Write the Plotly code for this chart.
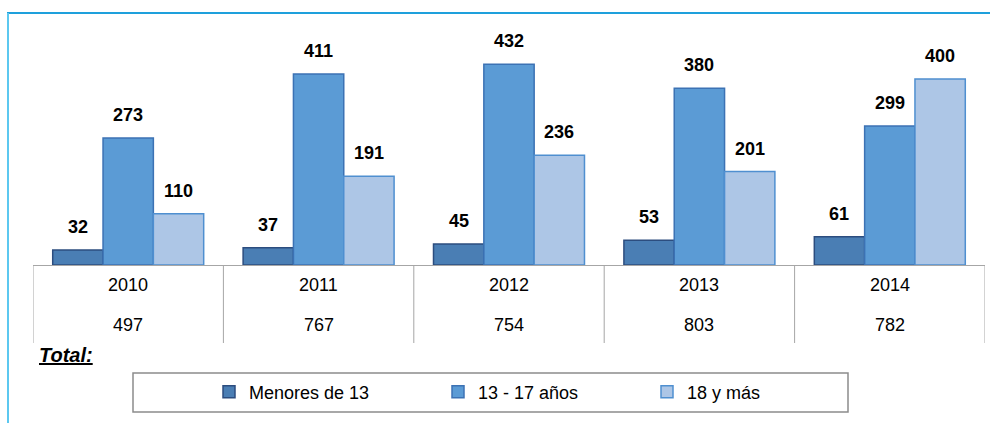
import plotly.graph_objects as go

years = ["2010", "2011", "2012", "2013", "2014"]
totals = ["497", "767", "754", "803", "782"]
series_names = ["Menores de 13", "13 - 17 años", "18 y más"]
menores_13 = [32, 37, 45, 53, 61]
de_13_17 = [273, 411, 432, 380, 299]
mayores_18 = [110, 191, 236, 201, 400]

fills = ["#4A7EB4", "#5B9BD5", "#ADC6E6"]
edges = ["#2C4D7F", "#3C72B4", "#4F8FD0"]

FONT = "Liberation Sans, Arial, sans-serif"

W, H = 990, 423
ML, MR, MT, MB = 33, 5, 13, 158
PW, PH = W - ML - MR, H - MT - MB

def px_x(p):
    return (p - ML) / PW

def px_y(p):
    return (H - MB - p) / PH

idx = list(range(len(years)))
offsets = [-1, 0, 1]
bargap = 0.207
bw = (1 - bargap) / 3

fig = go.Figure()
legend_ids = ["legend", "legend2", "legend3"]
for name, vals, fc, ec, lg in zip(series_names, [menores_13, de_13_17, mayores_18], fills, edges, legend_ids):
    fig.add_trace(go.Bar(
        x=idx, y=vals, name=name, legend=lg,
        marker=dict(color=fc, line=dict(color=ec, width=1.5)),
        hoverinfo="x+y",
    ))

annotations = []
# data labels from the series arrays
for off, vals in zip(offsets, [menores_13, de_13_17, mayores_18]):
    for i, v in enumerate(vals):
        annotations.append(dict(x=i + off * bw, y=v, xref="x", yref="y", text=f"<b>{v}</b>",
                                showarrow=False, yanchor="middle", yshift=23,
                                font=dict(family=FONT, size=18, color="#000000")))

shapes = []
# table vertical lines
for b in [i - 0.5 for i in range(len(years) + 1)]:
    shapes.append(dict(type="line", xref="x", yref="paper", x0=b, x1=b,
                       y0=0, y1=px_y(343), line=dict(color="#A6A6A6", width=1)))
# legend box
shapes.append(dict(type="rect", xref="paper", yref="paper",
                   x0=px_x(133), x1=px_x(848), y0=px_y(412), y1=px_y(373),
                   line=dict(color="#8C8C8C", width=1.5), fillcolor="rgba(0,0,0,0)"))
# outer frame lines
shapes.append(dict(type="line", xref="paper", yref="paper", x0=px_x(7), x1=px_x(990),
                   y0=px_y(13), y1=px_y(13), line=dict(color="#1EA0DC", width=2)))
shapes.append(dict(type="line", xref="paper", yref="paper", x0=px_x(8), x1=px_x(8),
                   y0=px_y(13), y1=px_y(423), line=dict(color="#5CC8F0", width=2)))

for i, (yr, tot) in enumerate(zip(years, totals)):
    annotations.append(dict(x=i, y=px_y(285), xref="x", yref="paper", text=yr, yanchor="middle",
                            showarrow=False, font=dict(family=FONT, size=18, color="#000000")))
    annotations.append(dict(x=i, y=px_y(325), xref="x", yref="paper", text=tot, yanchor="middle",
                            showarrow=False, font=dict(family=FONT, size=18, color="#000000")))
annotations.append(dict(x=px_x(37), y=px_y(355), xref="paper", yref="paper",
                        xanchor="left", yanchor="middle", text="<b><i><u>Total:</u></i></b>",
                        showarrow=False, font=dict(family=FONT, size=20, color="#000000")))

legend_common = dict(orientation="h", xanchor="left", yanchor="middle", bgcolor="rgba(0,0,0,0)",
                     font=dict(family=FONT, size=18, color="#000000"), itemclick=False,
                     itemdoubleclick=False, borderwidth=0)
legend_x = [209, 438, 647]

fig.update_layout(
    width=W, height=H,
    margin=dict(l=ML, r=MR, t=MT, b=MB, pad=0),
    paper_bgcolor="white", plot_bgcolor="white",
    barmode="group", bargap=bargap, bargroupgap=0,
    xaxis=dict(range=[-0.5, 4.5], showticklabels=False, showgrid=False, zeroline=False,
               showline=True, linecolor="#A6A6A6", linewidth=1, ticks=""),
    yaxis=dict(range=[0, 542], visible=False),
    showlegend=True,
    legend=dict(x=px_x(legend_x[0]), y=px_y(392), **legend_common),
    legend2=dict(x=px_x(legend_x[1]), y=px_y(392), **legend_common),
    legend3=dict(x=px_x(legend_x[2]), y=px_y(392), **legend_common),
    shapes=shapes, annotations=annotations,
    font=dict(family=FONT),
)

fig.write_html("out.html", config={"displayModeBar": False},
               post_script="document.body.style.margin='0';document.body.style.padding='0';")
